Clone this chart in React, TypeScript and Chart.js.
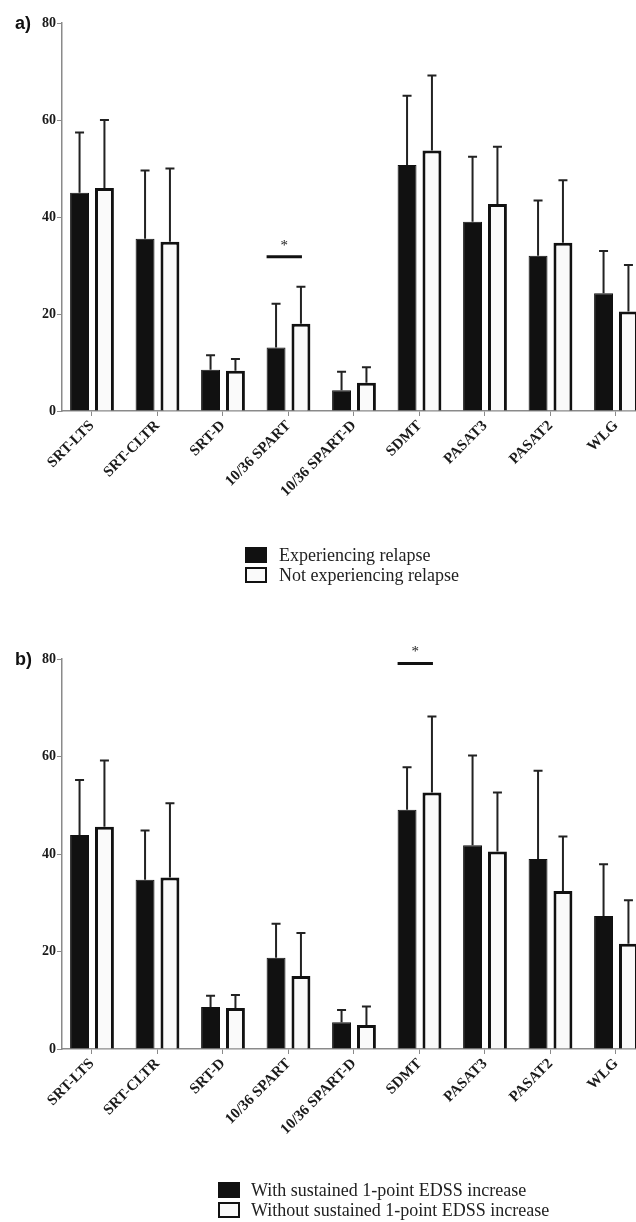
import React, { useEffect, useRef } from 'react';
import { Chart, registerables } from 'chart.js';

Chart.register(...registerables);

// ---------- data ----------
const categories = ['SRT-LTS', 'SRT-CLTR', 'SRT-D', '10/36 SPART', '10/36 SPART-D', 'SDMT', 'PASAT3', 'PASAT2', 'WLG'];
const yTickValues = [0, 20, 40, 60, 80];

// panel a
const relapseMean = [45.0, 35.5, 8.5, 13.1, 4.3, 50.7, 39.0, 32.0, 24.3];
const relapseSD = [12.4, 14.1, 3.0, 9.0, 3.8, 14.3, 13.4, 11.4, 8.7];
const noRelapseMean = [46.0, 34.9, 8.3, 18.0, 5.8, 53.7, 42.7, 34.7, 20.5];
const noRelapseSD = [14.0, 15.1, 2.4, 7.6, 3.2, 15.5, 11.8, 12.9, 9.6];

// panel b
const withEdssMean = [43.9, 34.7, 8.6, 18.7, 5.5, 49.1, 41.8, 39.0, 27.3];
const withEdssSD = [11.3, 10.1, 2.3, 7.0, 2.5, 8.7, 18.4, 18.1, 10.6];
const withoutEdssMean = [45.6, 35.2, 8.4, 15.0, 4.9, 52.6, 40.5, 32.4, 21.6];
const withoutEdssSD = [13.6, 15.2, 2.7, 8.8, 3.8, 15.6, 12.1, 11.2, 8.9];

const sigA = { category: '10/36 SPART', level: 31.8, mark: '*' };
const sigB = { category: 'SDMT', level: 79.1, mark: '*' };

const legendA = ['Experiencing relapse', 'Not experiencing relapse'];
const legendB = ['With sustained 1-point EDSS increase', 'Without sustained 1-point EDSS increase'];

// ---------- styles ----------
const SERIF = '"Liberation Serif", "Times New Roman", serif';
const SANS = '"Liberation Sans", Arial, sans-serif';
const DARK = '#111111';
const LIGHT = '#fafafa';
const AXIS = '#8a8a8a';

const extrasPlugin = {
  id: 'extras',
  afterDatasetsDraw(chart: any, _args: any, opts: any) {
    const { ctx } = chart;
    const y = chart.scales.y;
    ctx.save();
    (opts.errors || []).forEach((sd: number[], di: number) => {
      const meta = chart.getDatasetMeta(di);
      const values = chart.data.datasets[di].data as number[];
      meta.data.forEach((bar: any, i: number) => {
        const top = y.getPixelForValue(values[i] + sd[i]);
        const x = bar.x;
        ctx.strokeStyle = '#222';
        ctx.lineWidth = 2;
        ctx.beginPath();
        ctx.moveTo(x, bar.y);
        ctx.lineTo(x, top);
        ctx.moveTo(x - 4.5, top);
        ctx.lineTo(x + 4.5, top);
        ctx.stroke();
      });
    });
    const sig = opts.sig;
    if (sig) {
      const idx = chart.data.labels.indexOf(sig.category);
      const b0: any = chart.getDatasetMeta(0).data[idx];
      const b1: any = chart.getDatasetMeta(1).data[idx];
      const x0 = b0.x - b0.width / 2;
      const x1 = b1.x + 1;
      const yp = y.getPixelForValue(sig.level);
      ctx.strokeStyle = DARK;
      ctx.lineWidth = 3;
      ctx.beginPath();
      ctx.moveTo(x0, yp);
      ctx.lineTo(x1, yp);
      ctx.stroke();
      ctx.fillStyle = '#222';
      ctx.font = `15px ${SERIF}`;
      ctx.textAlign = 'center';
      ctx.textBaseline = 'middle';
      ctx.fillText(sig.mark, (x0 + x1) / 2, yp - 11);
    }
    ctx.restore();
  },
  afterDraw(chart: any, _args: any, opts: any) {
    if (!opts.panel) return;
    const { ctx } = chart;
    ctx.save();
    ctx.fillStyle = '#111';
    ctx.font = `bold 18px ${SANS}`;
    ctx.textAlign = 'left';
    ctx.textBaseline = 'middle';
    ctx.fillText(opts.panel, 15, chart.chartArea.top + 1);
    ctx.restore();
  },
};

type PanelProps = {
  panel: string;
  labels: string[];
  mean1: number[];
  sd1: number[];
  mean2: number[];
  sd2: number[];
  series: string[];
  sig: { category: string; level: number; mark: string };
  top: number;
  height: number;
  padTop: number;
  xHeight: number;
};

function Panel(p: PanelProps) {
  const ref = useRef<HTMLCanvasElement | null>(null);
  useEffect(() => {
    if (!ref.current) return;
    const tickFont = { family: SERIF, size: 14, weight: 'bold' as const };
    const xFont = { family: SERIF, size: 15, weight: 'bold' as const };
    const chart = new Chart(ref.current, {
      type: 'bar',
      data: {
        labels: p.labels,
        datasets: [
          {
            label: p.series[0],
            data: p.mean1,
            backgroundColor: DARK,
            borderColor: DARK,
            borderWidth: 1,
            categoryPercentage: 0.76,
            barPercentage: 0.76,
          },
          {
            label: p.series[1],
            data: p.mean2,
            backgroundColor: LIGHT,
            borderColor: DARK,
            borderWidth: 3,
            categoryPercentage: 0.76,
            barPercentage: 0.76,
          },
        ],
      },
      options: {
        responsive: false,
        animation: false,
        layout: { padding: { top: p.padTop, right: 8.5, left: 0, bottom: 0 } },
        plugins: {
          legend: { display: false },
          tooltip: { enabled: false },
          extras: { errors: [p.sd1, p.sd2], sig: p.sig, panel: p.panel },
        } as any,
        scales: {
          x: {
            type: 'category',
            offset: true,
            grid: {
              display: true,
              offset: false,
              drawOnChartArea: false,
              drawTicks: true,
              tickLength: 5,
              color: AXIS,
              lineWidth: 1,
            },
            border: { display: true, color: AXIS, width: 1.5 },
            ticks: {
              color: '#1a1a1a',
              font: xFont,
              minRotation: 45,
              maxRotation: 45,
              autoSkip: false,
              padding: 1,
            },
            afterBuildTicks: (s: any) => {
              // slightly smaller gap before the first category, as in the original
              s._startValue = -0.458;
            },
            afterFit: (s: any) => {
              s.height = p.xHeight;
            },
          },
          y: {
            min: 0,
            max: 80,
            grid: {
              display: true,
              drawOnChartArea: false,
              drawTicks: true,
              tickLength: 5,
              color: AXIS,
              lineWidth: 1,
            },
            border: { display: true, color: AXIS, width: 1.5 },
            ticks: { color: '#1a1a1a', font: tickFont, padding: 1 },
            afterBuildTicks: (s: any) => {
              s.ticks = yTickValues.map((v) => ({ value: v }));
            },
            afterFit: (s: any) => {
              s.width = 62;
            },
          },
        },
      },
      plugins: [extrasPlugin],
    } as any);
    return () => chart.destroy();
  }, []);
  return (
    <canvas
      ref={ref}
      width={660}
      height={p.height}
      style={{ position: 'absolute', left: 0, top: p.top, display: 'block' }}
    />
  );
}

function Legend({ items, top, boxLeft, textLeft }: { items: string[]; top: number; boxLeft: number; textLeft: number }) {
  return (
    <>
      {items.map((t, i) => (
        <div key={t} style={{ position: 'absolute', left: 0, top: top + i * 20, height: 20, width: 636 }}>
          <div
            style={{
              position: 'absolute',
              left: boxLeft,
              top: 2,
              width: 22,
              height: 16,
              boxSizing: 'border-box',
              border: `2px solid ${DARK}`,
              background: i === 0 ? DARK : LIGHT,
            }}
          />
          <span
            style={{
              position: 'absolute',
              left: textLeft,
              top: 0,
              lineHeight: '20px',
              fontFamily: SERIF,
              fontSize: 18,
              color: '#222',
              whiteSpace: 'nowrap',
            }}
          >
            {t}
          </span>
        </div>
      ))}
    </>
  );
}

export default function App() {
  return (
    <div
      style={{
        position: 'fixed',
        left: 0,
        top: 0,
        width: 636,
        height: 1222,
        overflow: 'hidden',
        background: '#fff',
      }}
    >
      <Panel
        panel="a)"
        labels={categories}
        mean1={relapseMean}
        sd1={relapseSD}
        mean2={noRelapseMean}
        sd2={noRelapseSD}
        series={legendA}
        sig={sigA}
        top={0}
        height={620}
        padTop={23}
        xHeight={209}
      />
      <Legend items={legendA} top={545} boxLeft={245} textLeft={279} />
      <Panel
        panel="b)"
        labels={categories}
        mean1={withEdssMean}
        sd1={withEdssSD}
        mean2={withoutEdssMean}
        sd2={withoutEdssSD}
        series={legendB}
        sig={sigB}
        top={620}
        height={602}
        padTop={39}
        xHeight={173}
      />
      <Legend items={legendB} top={1180} boxLeft={218} textLeft={251} />
    </div>
  );
}
